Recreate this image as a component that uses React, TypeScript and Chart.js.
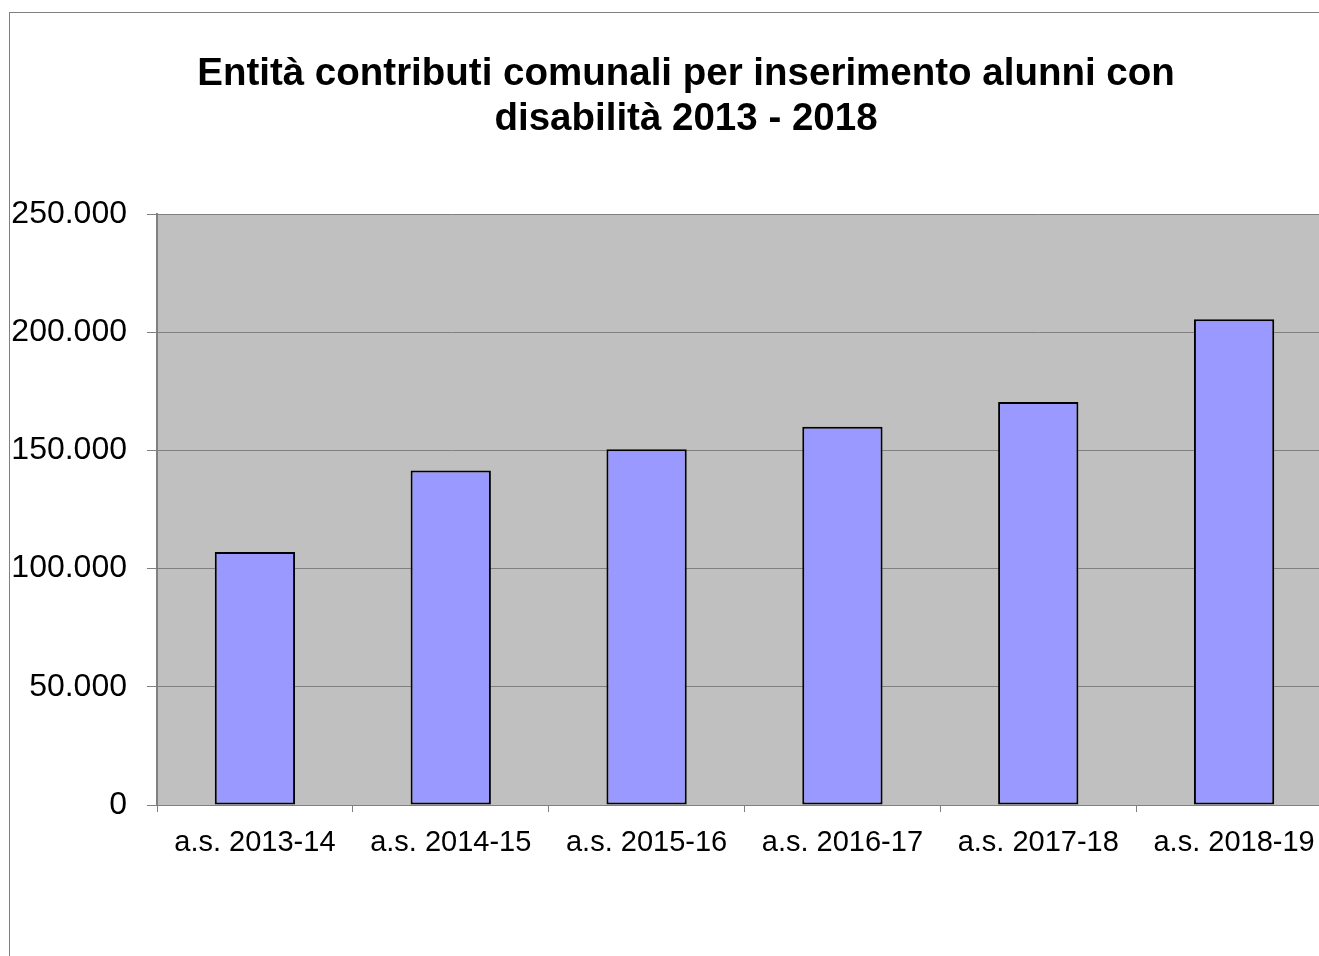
import React, { useEffect, useRef } from "react";
import { Chart, registerables } from "chart.js";

Chart.register(...registerables);

const categories = ["a.s. 2013-14", "a.s. 2014-15", "a.s. 2015-16", "a.s. 2016-17", "a.s. 2017-18", "a.s. 2018-19"];
const values = [107000, 141500, 150500, 160000, 170500, 205500];
const titleLines = ["Entità contributi comunali per inserimento alunni con", "disabilità 2013 - 2018"];
const yMin = 0;
const yMax = 250000;
const yStep = 50000;

const FONT = "'Liberation Sans', Arial, sans-serif";

function fmt(v: number): string {
  return String(Math.round(v)).replace(/\B(?=(\d{3})+(?!\d))/g, ".");
}

const frameAndTitle = {
  id: "frameAndTitle",
  beforeDraw(chart: any) {
    const { ctx, chartArea } = chart;
    ctx.save();
    ctx.fillStyle = "#C0C0C0";
    ctx.fillRect(chartArea.left, chartArea.top, chartArea.right - chartArea.left, chartArea.bottom - chartArea.top);
    ctx.strokeStyle = "#808080";
    ctx.lineWidth = 1;
    ctx.strokeRect(9.5, 12.5, 3000, 3000);
    ctx.restore();
  },
  afterDraw(chart: any) {
    const { ctx } = chart;
    ctx.save();
    ctx.fillStyle = "#000";
    ctx.font = "bold 38.5px " + FONT;
    ctx.textAlign = "center";
    ctx.textBaseline = "alphabetic";
    titleLines.forEach((line, i) => {
      ctx.fillText(line, 686, 84.5 + i * 45);
    });
    ctx.restore();
  },
};

export default function App() {
  const ref = useRef<HTMLCanvasElement | null>(null);
  useEffect(() => {
    if (!ref.current) return;
    const chart = new Chart(ref.current, {
      type: "bar",
      data: {
        labels: categories,
        datasets: [
          {
            data: values,
            backgroundColor: "#9999FF",
            borderColor: "#000000",
            borderWidth: 2,
            borderSkipped: false,
            barPercentage: 0.41,
            categoryPercentage: 1,
          },
        ],
      },
      options: {
        responsive: false,
        animation: false,
        devicePixelRatio: 1,
        layout: { padding: { left: 5, right: 40, top: 214, bottom: 0 } },
        plugins: {
          legend: { display: false },
          tooltip: { enabled: false },
          title: { display: false },
        },
        scales: {
          x: {
            afterFit: (s: any) => {
              s.height = 956 - 805;
            },
            grid: {
              offset: true,
              drawOnChartArea: false,
              color: "#808080",
              tickLength: 7,
            },
            border: { color: "#808080", width: 1 },
            ticks: {
              color: "#000",
              font: { family: FONT, size: 29 },
              padding: 14,
              maxRotation: 0,
              autoSkip: false,
            },
          },
          y: {
            min: yMin,
            max: yMax,
            afterFit: (s: any) => {
              s.width = 152;
            },
            grid: { color: "#808080", lineWidth: 1, tickLength: 10 },
            border: { color: "#808080", width: 2 },
            ticks: {
              stepSize: yStep,
              color: "#000",
              font: { family: FONT, size: 32 },
              padding: 20,
              callback: (v: any) => fmt(Number(v)),
            },
          },
        },
      },
      plugins: [frameAndTitle],
    });
    return () => chart.destroy();
  }, []);
  return (
    <div style={{ position: "fixed", left: 0, top: 0, width: 1319, height: 956, overflow: "hidden", background: "#fff" }}>
      <canvas ref={ref} width={1372} height={956} style={{ display: "block", width: 1372, height: 956 }} />
    </div>
  );
}
